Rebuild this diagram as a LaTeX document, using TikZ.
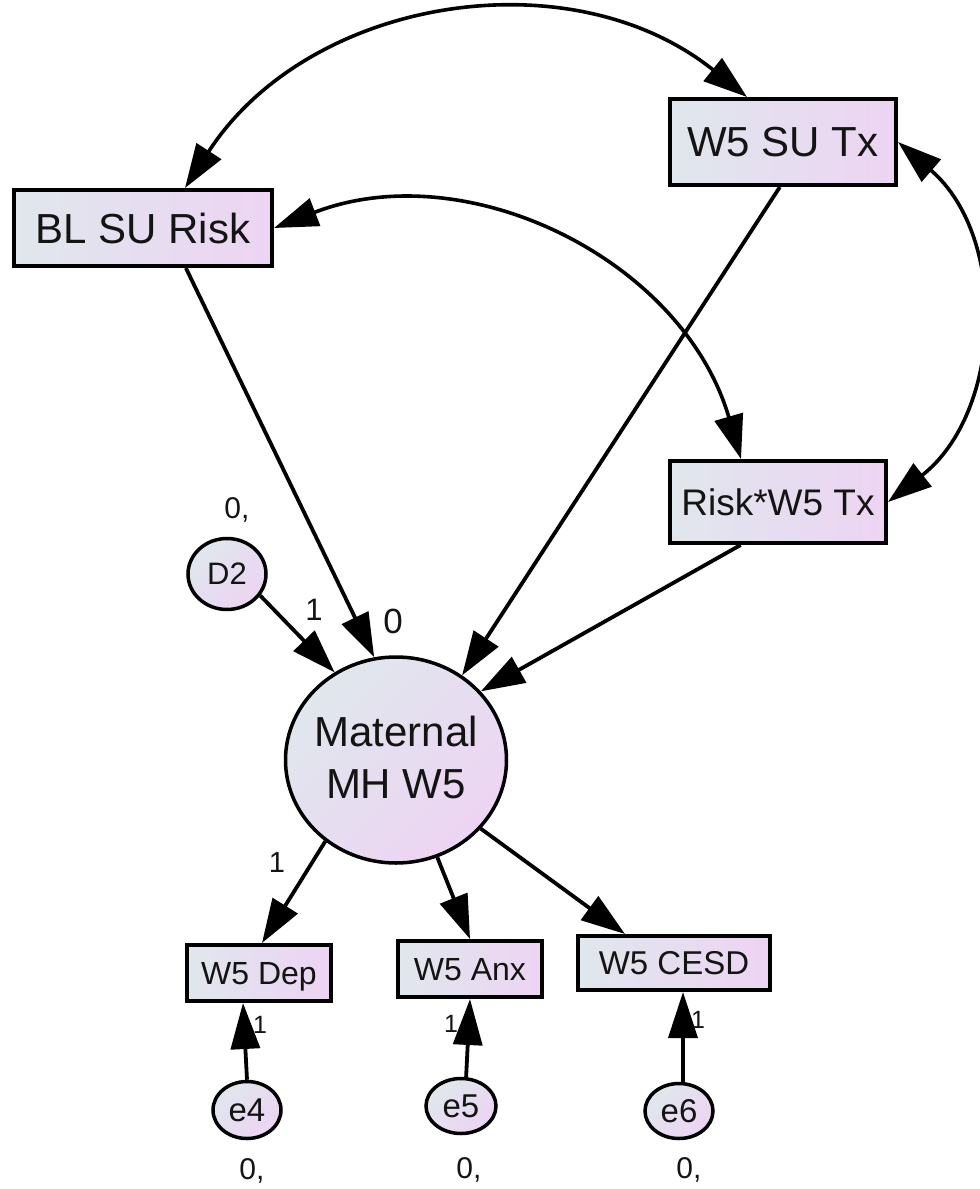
\documentclass[tikz,border=0pt]{standalone}
\usepackage{fontspec}
\setmainfont{Liberation Sans}
\usetikzlibrary{arrows.meta,shapes.geometric}
\definecolor{fillA}{RGB}{224,231,237}
\definecolor{fillB}{RGB}{237,212,243}
\definecolor{ink}{RGB}{20,20,20}
\newcommand{\fs}[1]{\fontsize{#1}{#1}\selectfont}
\tikzset{
  obsbox/.style={draw=black, line width=4pt, rectangle, inner sep=0pt,
    left color=fillA, right color=fillB, text=ink, text depth=0pt},
  latent/.style={draw=black, line width=3.5pt, ellipse, inner sep=0pt,
    left color=fillA, right color=fillB, shading angle=45, text=ink},
  lbl/.style={text=ink, inner sep=0pt, anchor=base},
  regpath/.style={draw=black, line width=3.8pt, -{Triangle[length=44pt,width=29pt]}},
  covpath/.style={draw=black, line width=3.6pt,
    {Triangle[length=44pt,width=29pt]}-{Triangle[length=44pt,width=29pt]}},
  errpath/.style={draw=black, line width=3.8pt, -{Triangle[length=46pt,width=29pt]}}
}
\begin{document}
\begin{tikzpicture}[x=1pt,y=-1pt]
\useasboundingbox (0,0) rectangle (980,1189);

% observed variables
\node[obsbox, minimum width=258pt, minimum height=76pt, font=\fs{42}] (bl) at (143,228) {BL SU Risk};
\node[obsbox, minimum width=226pt, minimum height=86pt, font=\fs{42}] (su) at (783,142) {W5 SU Tx};
\node[obsbox, minimum width=216pt, minimum height=82pt, font=\fs{37}] (rw) at (778,502) {Risk*W5 Tx};
\node[obsbox, minimum width=144pt, minimum height=56pt, font=\fs{32}] (dep) at (259,973) {W5 Dep};
\node[obsbox, minimum width=144pt, minimum height=56pt, font=\fs{32}] (anx) at (470,969) {W5 Anx};
\node[obsbox, minimum width=192pt, minimum height=54pt, font=\fs{33}] (cesd) at (674,963) {W5 CESD};

% latent variable and error terms
\node[latent, minimum width=221pt, minimum height=206pt] (mat) at (396,760) {};
\node[text=ink, align=center, inner sep=0pt, font=\fontsize{42}{52}\selectfont] (matText) at ([yshift=3pt]mat.center) {Maternal\\MH W5};
\node[latent, minimum width=78pt, minimum height=71pt, font=\fs{31}] (d2) at (227,574) {D2};
\node[latent, minimum width=68pt, minimum height=57pt, font=\fs{33}] (e4) at (247,1110) {e4};
\node[latent, minimum width=70pt, minimum height=55pt, font=\fs{33}] (e5) at (461,1106) {e5};
\node[latent, minimum width=68pt, minimum height=55pt, font=\fs{33}] (e6) at (679,1111) {e6};

% covariances
\draw[covpath] ([xshift=42pt]bl.north) .. controls +(123.5,-190.4) and +(-177.3,-141.9) .. ([xshift=-36pt]su.north);
\draw[covpath] (bl.east) .. controls +(193,-74.5) and +(-58,-199) .. ([xshift=-37pt]rw.north);
\draw[covpath] (su.east) .. controls +(110.7,95) and +(115,-90) .. (rw.east);

% structural paths
\draw[regpath] (bl.-43.6) -- (mat.102.6);
\draw[regpath] (su.-94) -- (mat.52.2);
\draw[regpath] (rw.-131.5) -- (mat.39.1);
\draw[regpath] (d2.-33) -- (mat.125.9);

% measurement paths
\draw[regpath] (mat.-131.2) -- ([xshift=3pt]dep.north);
\draw[regpath] (mat.-67.3) -- (anx.north);
\draw[regpath] (mat.-39.6) -- ([xshift=-49pt]cesd.north);

% error paths
\draw[errpath] (e4.north) -- ([xshift=-16pt]dep.south);
\draw[errpath] (e5.80) -- (anx.south);
\draw[errpath] ([xshift=4pt]e6.north) -- ([xshift=9pt]cesd.south);

% parameter labels
\node[lbl, font=\fs{30}] (vD2) at (237,518) {0,};
\node[lbl, font=\fs{31}] (wD2) at (314,620) {1};
\node[lbl, font=\fs{35}] (iMat) at (393,633) {0};
\node[lbl, font=\fs{29}] (wDep) at (277,872) {1};
\node[lbl, font=\fs{25}] (wE4) at (260,1033) {1};
\node[lbl, font=\fs{25}] (wE5) at (451,1032) {1};
\node[lbl, font=\fs{25}] (wE6) at (698,1028) {1};
\node[lbl, font=\fs{30}] (vE4) at (252,1179) {0,};
\node[lbl, font=\fs{30}] (vE5) at (469,1178) {0,};
\node[lbl, font=\fs{30}] (vE6) at (689,1178) {0,};
\end{tikzpicture}
\end{document}
